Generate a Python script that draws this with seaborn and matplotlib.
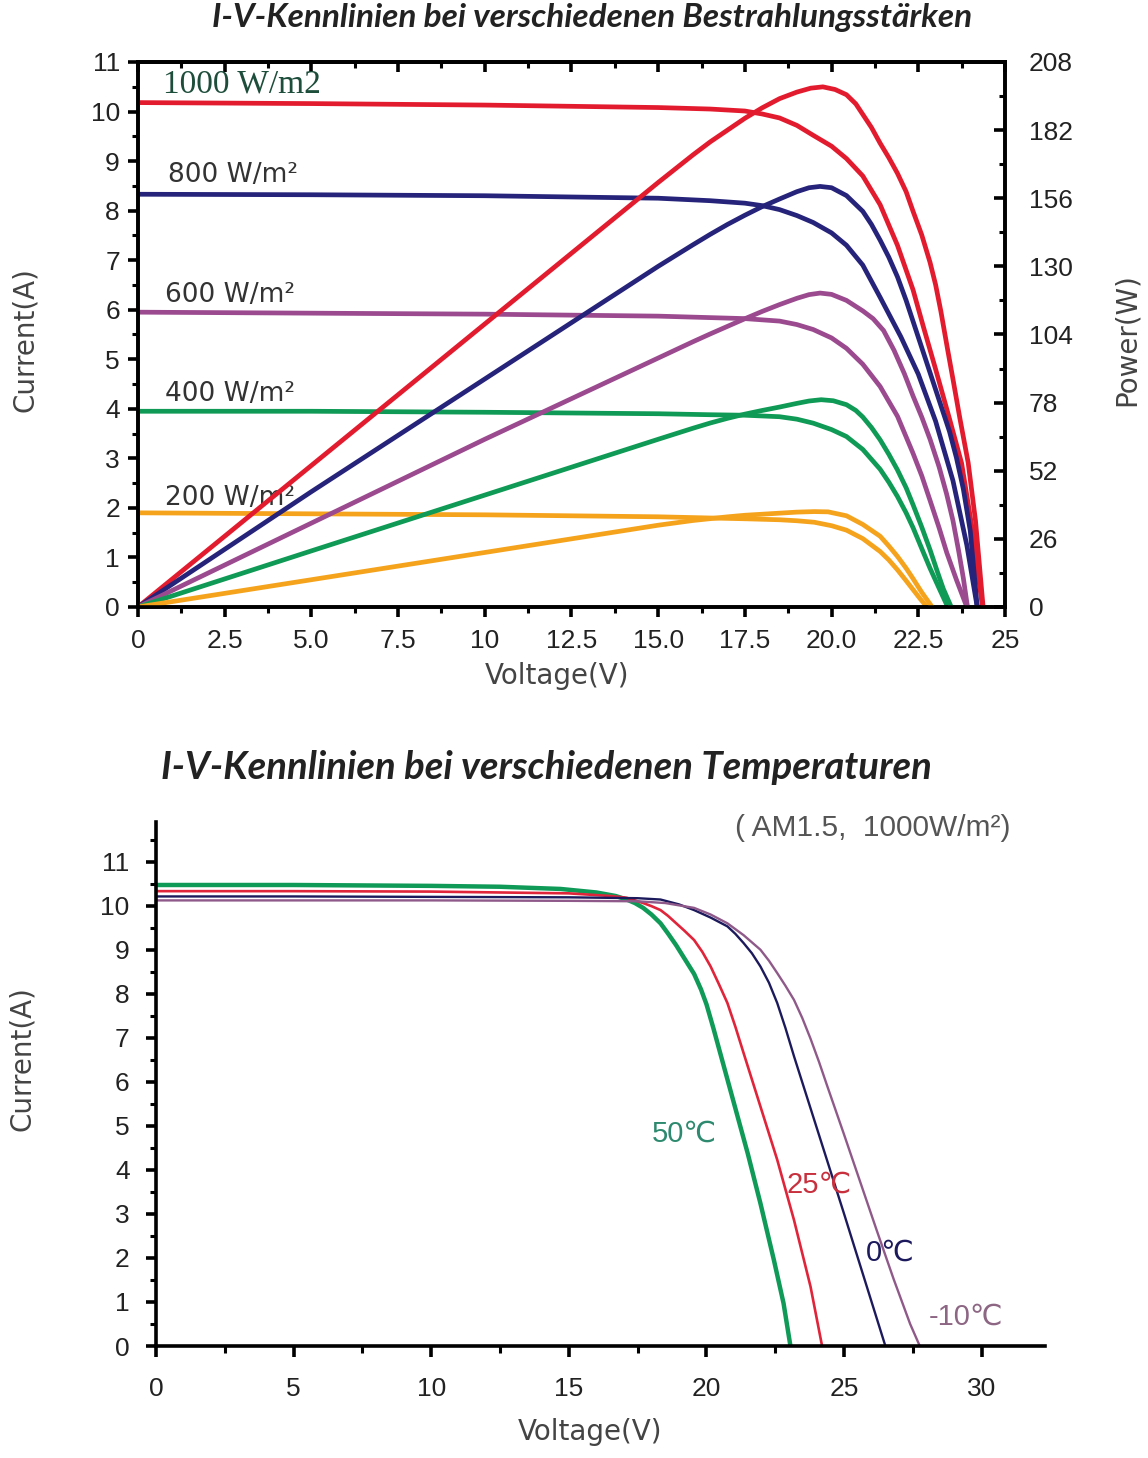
import matplotlib
matplotlib.use("Agg")
import matplotlib.pyplot as plt
import numpy as np
import seaborn as sns

# ---------------- data: irradiance chart (I-V and P-V curves) ----------------
irr_labels = ['1000 W/m2', '800 W/m²', '600 W/m²', '400 W/m²', '200 W/m²']
irr_colors = ['#e31b2e', '#25237a', '#9b4a8f', '#0f9a55', '#f5a31c']

# current curves (V, A)
v_iv_1000 = [0, 5, 10, 15, 16.5, 17.5, 18.0, 18.5, 19.0, 19.47, 20.0, 20.43, 20.9, 21.4, 21.9, 22.35,
             22.65, 23.0, 23.4, 23.75, 24.05, 24.35]
i_iv_1000 = [10.18, 10.16, 10.13, 10.08, 10.05, 10.01, 9.95, 9.87, 9.72, 9.52, 9.3, 9.05, 8.7, 8.12, 7.3, 6.4,
             5.65, 4.8, 3.8, 2.9, 1.6, 0]
v_iv_800 = [0, 5, 10, 15, 16.5, 17.5, 18.0, 18.5, 19.0, 19.47, 20.0, 20.43, 20.9, 21.4, 21.7, 22.0,
            22.5, 23.0, 23.5, 23.9, 24.2]
i_iv_800 = [8.33, 8.32, 8.3, 8.25, 8.2, 8.15, 8.1, 8.02, 7.9, 7.76, 7.55, 7.3, 6.9, 6.25, 5.85, 5.45,
            4.7, 3.75, 2.55, 1.25, 0]
v_iv_600 = [0, 5, 10, 15, 16.5, 17.5, 18.5, 19.0, 19.47, 20.0, 20.43, 20.9, 21.4, 21.9, 22.35, 22.6,
            22.84, 23.1, 23.32, 23.6, 23.9]
i_iv_600 = [5.95, 5.93, 5.91, 5.87, 5.84, 5.82, 5.77, 5.7, 5.6, 5.43, 5.22, 4.9, 4.45, 3.85, 3.1, 2.65,
            2.15, 1.6, 1.1, 0.55, 0]
v_iv_400 = [0, 5, 10, 15, 16.5, 17.5, 18.5, 19.0, 19.47, 20.0, 20.43, 20.9, 21.4, 21.65, 21.9, 22.15,
            22.35, 22.6, 22.84, 23.1, 23.35]
i_iv_400 = [3.95, 3.95, 3.93, 3.9, 3.88, 3.87, 3.84, 3.79, 3.71, 3.58, 3.44, 3.18, 2.78, 2.52, 2.23, 1.9,
            1.6, 1.18, 0.78, 0.38, 0]
v_iv_200 = [0, 5, 10, 15, 17.5, 18.5, 19.0, 19.5, 20.0, 20.43, 20.9, 21.4, 21.65, 21.9, 22.15, 22.35,
            22.55, 22.75]
i_iv_200 = [1.9, 1.88, 1.86, 1.82, 1.78, 1.76, 1.74, 1.71, 1.64, 1.55, 1.38, 1.12, 0.95, 0.75, 0.53, 0.35,
            0.17, 0]

# power curves (V, W)
v_p_1000 = [0, 5, 10, 15, 16, 16.5, 17, 17.5, 18, 18.5, 19.0, 19.4, 19.75, 20.1, 20.43, 20.7, 20.9,
            21.15, 21.4, 21.65, 21.9, 22.15, 22.35, 22.6, 22.84, 23.0, 23.15, 23.35, 23.5, 23.7, 23.94,
            24.15, 24.37]
p_1000 = [0, 54, 108, 162, 172.5, 177.5, 182, 186.5, 190.5, 194, 196.5, 198, 198.5, 197.5, 195.5, 192, 188,
          183, 177, 171.5, 165.5, 158.5, 151, 142, 131.5, 123, 113, 98, 87, 72, 55,
          33, 0]
v_p_800 = [0, 5, 10, 15, 16, 16.5, 17, 17.5, 18, 18.5, 19.0, 19.35, 19.67, 20.0, 20.43, 20.9, 21.15,
           21.4, 21.65, 21.9, 22.15, 22.4, 22.65, 22.9, 23.15, 23.4, 23.6, 23.8, 24.0, 24.2]
p_800 = [0, 44, 87, 130, 138.2, 142.2, 146, 149.5, 152.8, 155.7, 158.5, 160, 160.5, 160, 157, 151, 146,
         140, 133.5, 126, 117, 107, 97, 87, 77, 67, 57, 45, 29, 0]
v_p_600 = [0, 5, 10, 15, 16, 16.5, 17, 17.5, 18, 18.5, 19.0, 19.35, 19.67, 20.0, 20.43, 20.9, 21.2,
           21.5, 21.8, 22.1, 22.35, 22.6, 22.84, 23.1, 23.32, 23.5, 23.67, 23.8, 23.92]
p_600 = [0, 32, 64, 95, 101.2, 104.2, 107.1, 110, 112.8, 115.4, 117.8, 119.2, 119.8, 119.3, 117, 113, 110,
         105.5, 98, 89, 80.5, 72.5, 64, 53.5, 43, 33, 21, 11, 0]
v_p_400 = [0, 5, 10, 15, 16, 16.5, 17, 17.5, 18, 18.5, 19.0, 19.35, 19.7, 20.05, 20.43, 20.7, 20.9,
           21.15, 21.4, 21.65, 21.9, 22.15, 22.35, 22.6, 22.84, 23.05, 23.22, 23.45]
p_400 = [0, 21.4, 42.7, 64, 68.2, 70.2, 72, 73.6, 75, 76.3, 77.7, 78.6, 79.1, 78.7, 77.2, 75, 72.5,
         68.5, 63.8, 58.3, 52.3, 45.5, 39, 30.5, 21.8, 13.5, 7, 0]
v_p_200 = [0, 5, 10, 15, 16, 17, 17.5, 18.5, 19.0, 19.5, 19.9, 20.43, 20.9, 21.4, 21.65, 21.9, 22.15,
           22.35, 22.6, 22.9]
p_200 = [0, 10.4, 20.8, 31.2, 33, 34.4, 35, 35.8, 36.2, 36.4, 36.3, 34.8, 31.5, 27, 23.3, 19.3, 14.8,
         10.8, 5.6, 0]

# label anchor points (V, A)
irr_label_v = [0.72, 0.87, 0.78, 0.78, 0.78]
irr_label_i = [10.55, 8.71, 6.30, 4.30, 2.20]

top_xticks = [0, 2.5, 5, 7.5, 10, 12.5, 15, 17.5, 20, 22.5, 25]
top_xlabels = ['0', '2.5', '5.0', '7.5', '10', '12.5', '15.0', '17.5', '20.0', '22.5', '25']
power_ticks = [0, 26, 52, 78, 104, 130, 156, 182, 208]

# ---------------- data: temperature chart ----------------
temp_labels = ['50℃', '25℃', '0℃', '-10℃']
temp_colors = ['#0f9a58', '#e0243a', '#1c1a5c', '#8f5a8a']
temp_text_colors = ['#2e8a6e', '#c8303e', '#1c1a5c', '#8d6684']

v_t50 = [0, 5, 10, 12.5, 14.7, 16, 16.7, 17.1, 17.4, 17.7, 18.0, 18.33, 18.6, 18.9, 19.2, 19.55, 19.8,
         20.0, 20.25, 20.5, 21.0, 21.5, 21.96, 22.45, 22.8, 23.05]
i_t50 = [10.47, 10.47, 10.45, 10.43, 10.38, 10.3, 10.22, 10.14, 10.06, 9.95, 9.8, 9.6, 9.37, 9.1, 8.8, 8.45, 8.1,
         7.76, 7.22, 6.65, 5.51, 4.37, 3.24, 1.95, 0.97, 0]
v_t25 = [0, 5, 10, 15, 16.5, 17.1, 17.7, 18.0, 18.33, 18.6, 18.9, 19.2, 19.55, 19.85, 20.15, 20.45, 20.76,
         21.05, 21.35, 21.96, 22.57, 23.18, 23.78, 24.2]
i_t25 = [10.33, 10.33, 10.32, 10.28, 10.22, 10.18, 10.06, 9.99, 9.9, 9.77, 9.6, 9.43, 9.22, 8.95, 8.62, 8.22, 7.79,
         7.25, 6.65, 5.44, 4.23, 2.86, 1.35, 0]
v_t0 = [0, 5, 10, 15, 17.5, 18.33, 19.0, 19.55, 20.15, 20.76, 21.05, 21.35, 21.65, 21.96, 22.27, 22.57,
        22.87, 23.18, 23.78, 24.39, 25.0, 25.6, 26.2, 26.5]
i_t0 = [10.21, 10.21, 10.2, 10.19, 10.17, 10.14, 10.03, 9.9, 9.73, 9.53, 9.36, 9.15, 8.92, 8.62, 8.25, 7.79,
        7.22, 6.58, 5.4, 4.2, 3.0, 1.8, 0.6, 0]
v_tm10 = [0, 5, 10, 15, 17.5, 18.5, 19.55, 20.15, 20.76, 21.35, 21.96, 22.27, 22.57, 22.87, 23.18, 23.48,
          23.78, 24.09, 24.39, 25.0, 25.6, 26.2, 26.8, 27.4, 27.75]
i_tm10 = [10.12, 10.12, 10.12, 10.11, 10.1, 10.06, 9.95, 9.8, 9.6, 9.33, 9.0, 8.75, 8.47, 8.18, 7.86, 7.45,
          6.98, 6.45, 5.9, 4.8, 3.7, 2.6, 1.52, 0.5, 0]
temp_lw = [3.2, 1.9, 1.7, 1.7]

temp_label_v = [18.0, 22.9, 25.8, 28.07]
temp_label_i = [4.82, 3.66, 2.11, 0.66]

# ---------------- drawing ----------------
sns.set_theme(style='ticks')
plt.rcParams['font.family'] = ['DejaVu Sans']
tick_font = ['Liberation Sans', 'DejaVu Sans', 'Noto Sans CJK SC']
tick_color = '#222222'
label_color = '#444444'
tick_size = 19

fig = plt.figure(figsize=(11.48, 14.58), dpi=100)
fig.patch.set_facecolor('white')

# ---- top chart ----
ax1 = fig.add_axes([0.1202, 0.5837, 0.7552, 0.3738])
ax1r = ax1.twinx()

iv_sets = [(v_iv_1000, i_iv_1000), (v_iv_800, i_iv_800), (v_iv_600, i_iv_600),
           (v_iv_400, i_iv_400), (v_iv_200, i_iv_200)]
p_sets = [(v_p_1000, p_1000), (v_p_800, p_800), (v_p_600, p_600),
          (v_p_400, p_400), (v_p_200, p_200)]

for (vv, ii), col in zip(iv_sets, irr_colors):
    sns.lineplot(x=vv, y=ii, ax=ax1, color=col, lw=3.4, sort=False, estimator=None,
                 legend=False, solid_capstyle='round', solid_joinstyle='round')
for (vv, pp), col in zip(p_sets, irr_colors):
    sns.lineplot(x=vv, y=pp, ax=ax1r, color=col, lw=3.4, sort=False, estimator=None,
                 legend=False, solid_capstyle='round', solid_joinstyle='round')

ax1.set_xlim(0, 25)
ax1.set_ylim(0, 11)
ax1r.set_ylim(0, 208)
ax1.set_xlabel('')
ax1.set_ylabel('')
ax1r.set_ylabel('')

for sp in list(ax1.spines.values()) + list(ax1r.spines.values()):
    sp.set_linewidth(2.6)
    sp.set_color('black')

ax1.set_xticks(top_xticks)
ax1.set_xticklabels(top_xlabels)
ax1.set_xticks(np.arange(0, 25.01, 1.25), minor=True)
ax1.set_yticks(range(0, 12))
ax1.set_yticks(np.arange(0, 11.01, 0.5), minor=True)
ax1.tick_params(axis='x', which='major', direction='out', length=7, width=2.6,
                labelsize=tick_size, pad=9, colors='black', labelcolor=tick_color)
ax1.tick_params(axis='x', which='minor', direction='out', length=4, width=2.2, colors='black')
ax1.tick_params(axis='y', which='major', direction='out', length=7, width=2.6,
                labelsize=tick_size, pad=6, colors='black', labelcolor=tick_color)
ax1.tick_params(axis='y', which='minor', direction='out', length=4, width=2.2, colors='black')

ax1r.set_yticks(power_ticks)
ax1r.set_yticks(np.arange(0, 208.1, 13), minor=True)
ax1r.tick_params(axis='y', which='major', direction='in', length=8, width=2.6,
                 labelsize=tick_size, pad=17, colors='black', labelcolor=tick_color)
ax1r.tick_params(axis='y', which='minor', direction='in', length=4, width=2.2, colors='black')

top_sec = ax1.secondary_xaxis('top')
top_sec.set_xticks(top_xticks)
top_sec.set_xticks(np.arange(0, 25.01, 1.25), minor=True)
top_sec.tick_params(axis='x', which='major', direction='in', length=7, width=2.6,
                    labeltop=False, colors='black')
top_sec.tick_params(axis='x', which='minor', direction='in', length=4, width=2.2, colors='black')
top_sec.spines['top'].set_linewidth(2.6)

for lab in ax1.get_xticklabels() + ax1.get_yticklabels() + ax1r.get_yticklabels():
    lab.set_fontfamily(tick_font)

for k, txt in enumerate(irr_labels):
    if k == 0:
        ax1.text(irr_label_v[k], irr_label_i[k], txt, fontsize=24, family='Liberation Serif',
                 color='#1d4d3b', va='center', ha='left')
    else:
        ax1.text(irr_label_v[k], irr_label_i[k], txt, fontsize=19, color='#333333',
                 va='center', ha='left')

fig.text(0.5157, 0.9877, 'I-V-Kennlinien bei verschiedenen Bestrahlungsstärken',
         ha='center', va='center', fontsize=24, style='italic', weight='bold',
         family='Lato', color='#222222')
fig.text(0.4852, 0.5364, 'Voltage(V)', ha='center', va='center', fontsize=20, color=label_color)
fig.text(0.0218, 0.7668, 'Current(A)', ha='center', va='center', fontsize=20,
         rotation=90, color=label_color)
fig.text(0.9817, 0.7668, 'Power(W)', ha='center', va='center', fontsize=20,
         rotation=90, color=label_color)

# ---- bottom chart ----
ax2 = fig.add_axes([0.1359, 0.0768, 0.7744, 0.3594])
t_sets = [(v_t50, i_t50), (v_t25, i_t25), (v_t0, i_t0), (v_tm10, i_tm10)]
for (vv, ii), col, lw in zip(t_sets, temp_colors, temp_lw):
    sns.lineplot(x=vv, y=ii, ax=ax2, color=col, lw=lw, sort=False, estimator=None, legend=False,
                 solid_joinstyle='round')

ax2.set_xlim(0, 32.3)
ax2.set_ylim(0, 11.9)
ax2.set_xlabel('')
ax2.set_ylabel('')
sns.despine(ax=ax2)
for side in ['left', 'bottom']:
    ax2.spines[side].set_linewidth(2.6)
    ax2.spines[side].set_color('black')

ax2.set_xticks([0, 5, 10, 15, 20, 25, 30])
ax2.set_xticks(np.arange(0, 32.3, 2.5), minor=True)
ax2.set_yticks(range(0, 12))
ax2.set_yticks(np.arange(0, 11.6, 0.5), minor=True)
ax2.tick_params(axis='x', which='major', direction='out', length=8, width=2.6,
                labelsize=tick_size, pad=14, colors='black', labelcolor=tick_color)
ax2.tick_params(axis='x', which='minor', direction='out', length=5, width=2.2, colors='black')
ax2.tick_params(axis='y', which='major', direction='out', length=7, width=2.6,
                labelsize=tick_size, pad=12, colors='black', labelcolor=tick_color)
ax2.tick_params(axis='y', which='minor', direction='out', length=4, width=2.2, colors='black')
for lab in ax2.get_xticklabels() + ax2.get_yticklabels():
    lab.set_fontfamily(tick_font)

for k, txt in enumerate(temp_labels):
    ax2.text(temp_label_v[k], temp_label_i[k], txt, fontsize=21, family=tick_font,
             color=temp_text_colors[k], va='center', ha='left')

fig.text(0.640, 0.4321, '( AM1.5,  1000W/m²)', fontsize=21.5,
         family=tick_font, color='#555555', va='center', ha='left')

fig.text(0.4756, 0.4733, 'I-V-Kennlinien bei verschiedenen Temperaturen',
         ha='center', va='center', fontsize=27.5, style='italic', weight='bold',
         family='Lato', color='#222222')
fig.text(0.514, 0.0178, 'Voltage(V)', ha='center', va='center', fontsize=20, color=label_color)
fig.text(0.0192, 0.2743, 'Current(A)', ha='center', va='center', fontsize=20,
         rotation=90, color=label_color)

fig.savefig('out.png', dpi=100, facecolor='white')
